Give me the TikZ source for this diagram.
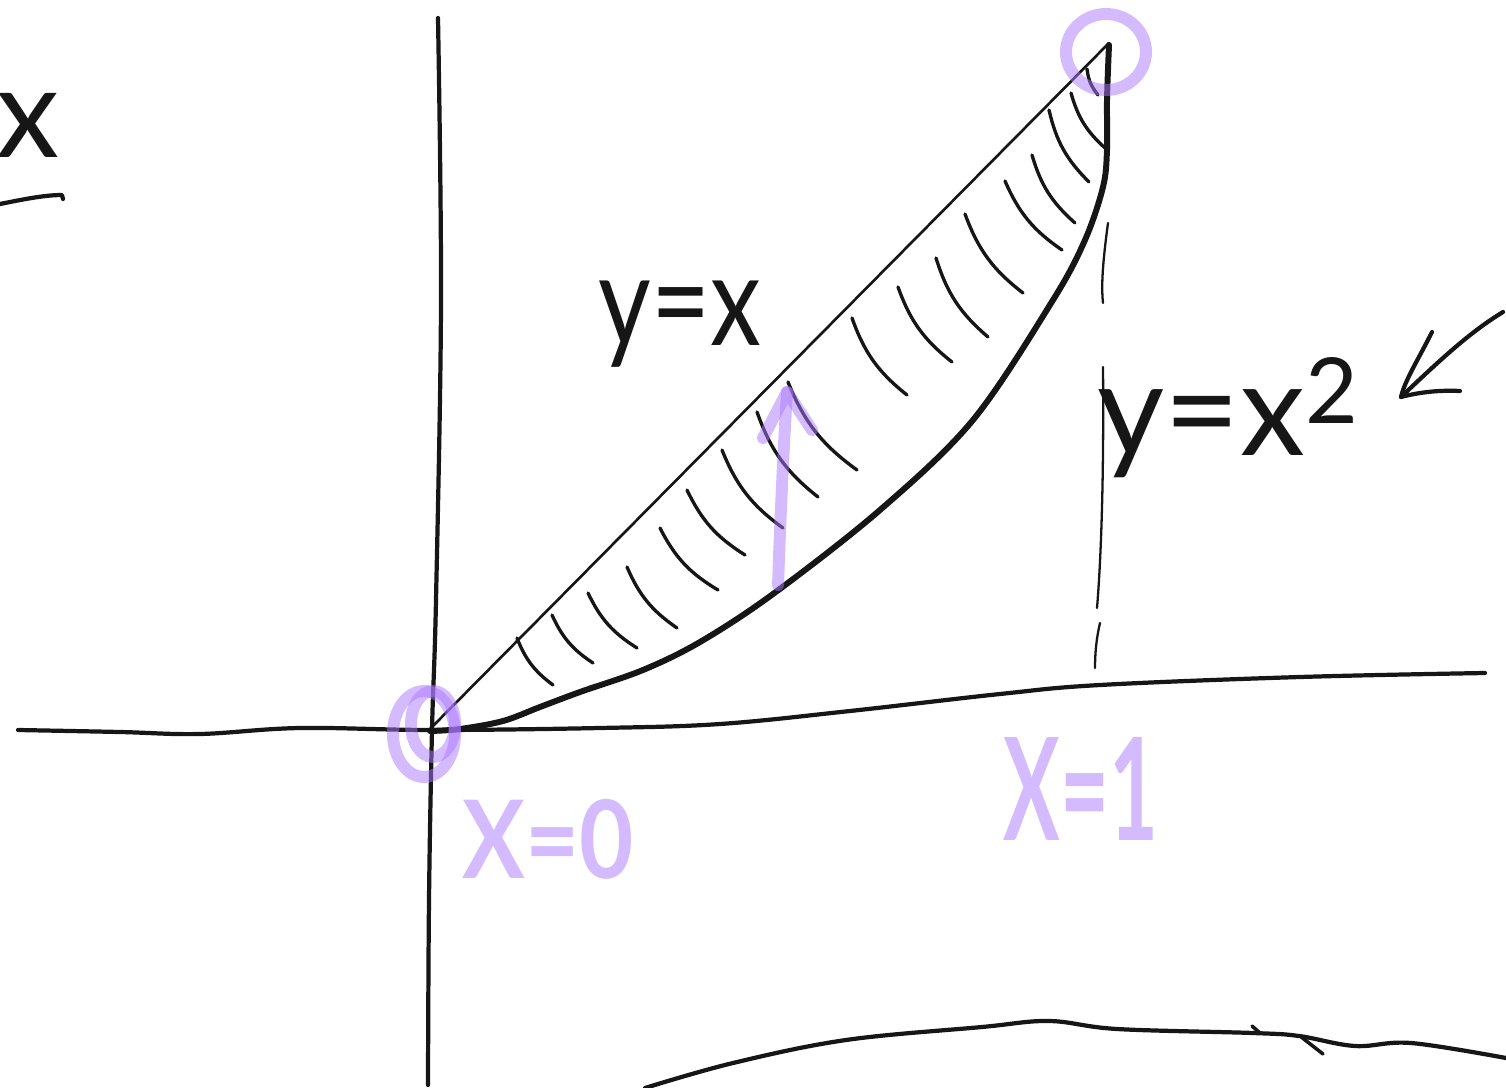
\documentclass[tikz,border=0pt]{standalone}
\usepackage{fontspec}
\setmainfont{Lato}
\definecolor{ink}{RGB}{22,22,22}
\definecolor{lav}{RGB}{170,120,255}
\begin{document}
\begin{tikzpicture}[x=0.01cm,y=-0.01cm,line cap=round,line join=round,
  axisline/.style={ink,line width=1.2pt},
  diagline/.style={ink,line width=0.75pt},
  parab/.style={ink,line width=1.7pt},
  hatchline/.style={ink,line width=0.95pt},
  dashline/.style={ink,line width=0.65pt},
  lavline/.style={lav,opacity=0.5,line width=3.4pt},
  inklabel/.style={ink,inner sep=0pt},
  lavlabel/.style={lav,text opacity=0.5,inner sep=0pt,font=\bfseries}]
\useasboundingbox (0,0) rectangle (1506,1088);

% axes
\draw[axisline] plot[smooth,tension=0.6] coordinates {(438,18) (441,300) (436,600) (432,730) (429,900) (428,1085)};
\draw[axisline] plot[smooth,tension=0.6] coordinates {(18,730) (120,732) (200,734) (300,728) (432,730) (600,728) (720,724) (850,711) (1000,694) (1100,685) (1300,677) (1485,673)};

% y = x
\coordinate (O) at (428,731);
\coordinate (P) at (1109,43);
\draw[diagline] (O) -- (P);

% y = x^2
\draw[parab] plot[smooth,tension=0.55] coordinates {(430,731) (460,729) (503,721) (540,707) (580,692) (643,670) (700,642) (773,594) (880,510) (973,420) (1053,300) (1085,240) (1103,187) (1107,150) (1107,100) (1109,45)};

% hatching
\foreach \xa/\ya/\xb/\yb in {517/638/553/685, 552/615/593/663, 588/593/637/648, 627/567/677/628,
  660/528/718/590, 687/490/745/555, 722/450/783/528, 757/412/818/497, 788/382/857/470,
  852/318/907/395, 898/287/952/362, 936/258/988/337, 965/214/1023/293, 1005/181/1062/250,
  1032/155/1075/223, 1049/110/1089/182, 1071/93/1105/148, 1087/69/1098/95}
  \draw[hatchline] (\xa,\ya) to[bend right=16] (\xb,\yb);

% dashed vertical at x = 1
\draw[dashline] (1108,223) .. controls (1103,260) and (1101,285) .. (1103,303);
\draw[dashline] (1103,367) .. controls (1104,480) and (1101,560) .. (1097,608);
\draw[dashline] (1100,623) .. controls (1096,640) and (1095,655) .. (1095,668);

% labels
\node[inklabel,anchor=base west,font=\fontsize{29}{34}\selectfont,yscale=1.25] (lyx) at (598,345) {y=x};
\node[inklabel,anchor=base west,font=\fontsize{37}{44}\selectfont] (lyx2) at (1097,455) {y=x\textsuperscript{2}};
\node[inklabel,anchor=base,font=\fontsize{36}{42}\selectfont] (lx) at (28,158) {x};
\draw[axisline] (0,204) .. controls (25,199) and (45,195) .. (62,195) -- (63,199);

% black arrow pointing to y=x^2
\coordinate (ta) at (1503,312);
\coordinate (tb) at (1401,397);
\draw[axisline] (ta) .. controls (1470,332) and (1440,360) .. (tb);
\draw[axisline] (1432,332) .. controls (1418,360) and (1405,380) .. (tb) .. controls (1420,392) and (1440,390) .. (1460,391);

% bottom curve
\draw[axisline] plot[smooth,tension=0.6] coordinates {(645,1088) (733,1063) (846,1040) (982,1027) (1049,1021) (1117,1029) (1253,1033) (1299,1036) (1355,1046) (1411,1043) (1506,1058)};
\draw[ink,line width=1pt] (1252,1026) -- (1260,1033);
\draw[ink,line width=1pt] (1300,1036) -- (1323,1054);

% purple marks
\draw[lavline] (1106,52) ellipse [x radius=40,y radius=38];
\draw[lavline] (424,734) ellipse [x radius=31,y radius=43];
\draw[lavline] (433,724) ellipse [x radius=22,y radius=33];
\coordinate (ab) at (778,585);
\coordinate (at) at (787,392);
\draw[lavline] (ab) .. controls (781,500) and (784,440) .. (at);
\draw[lavline] (763,438) -- (at) -- (812,430);
\node[lavlabel,anchor=base west,font=\bfseries\fontsize{28}{34}\selectfont,xscale=0.95,yscale=1.1] (lx0) at (462,878) {X=0};
\node[lavlabel,anchor=base west,font=\bfseries\fontsize{30}{36}\selectfont,xscale=0.8,yscale=1.35] (lx1) at (1003,840) {X=1};
\end{tikzpicture}
\end{document}
